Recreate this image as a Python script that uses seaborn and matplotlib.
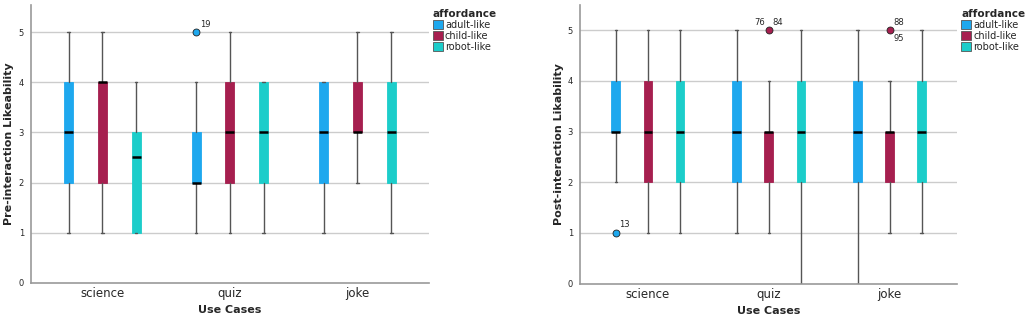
import numpy as np
import matplotlib
matplotlib.use("Agg")
import matplotlib.pyplot as plt
from matplotlib.patches import Patch
import seaborn as sns

##Data
use_cases = ["science", "quiz", "joke"]
affordances = ["adult-like", "child-like", "robot-like"]

# (whisker low, q1, median, q3, whisker high), order: use case -> affordance
pre_whislo = [[1, 1, 1], [1, 1, 1], [1, 2, 1]]
pre_q1 = [[2, 2, 1], [2, 2, 2], [2, 3, 2]]
pre_med = [[3, 4, 2.5], [2, 3, 3], [3, 3, 3]]
pre_q3 = [[4, 4, 3], [3, 4, 4], [4, 4, 4]]
pre_whishi = [[5, 5, 4], [4, 5, 4], [4, 5, 5]]
pre_fliers = {(1, 0): [5]}
pre_flier_ids = {(1, 0): ["19"]}

post_whislo = [[2, 1, 1], [1, 1, 0], [0, 1, 1]]
post_q1 = [[3, 2, 2], [2, 2, 2], [2, 2, 2]]
post_med = [[3, 3, 3], [3, 3, 3], [3, 3, 3]]
post_q3 = [[4, 4, 4], [4, 3, 4], [4, 3, 4]]
post_whishi = [[5, 5, 5], [5, 4, 5], [5, 4, 5]]
post_fliers = {(0, 0): [1], (1, 1): [5], (2, 1): [5]}
post_flier_ids = {(0, 0): ["13"], (1, 1): ["76", "84"], (2, 1): ["88", "95"]}

sns.set_style("white")
palette = sns.color_palette(["#1ea8ee", "#a61f4f", "#1ccdca"])
plt.rcParams['font.family'] = ['DejaVu Sans']

fig = plt.figure(figsize=(10.31, 3.23), dpi=100)
ax1 = fig.add_axes([0.030, 0.125, 0.386, 0.860])
ax2 = fig.add_axes([0.5626, 0.122, 0.366, 0.863])

offset = 0.265
width = 0.07


def draw(ax, wlo, q1, med, q3, whi, fliers, ids, ylabel, top):
    for i in range(len(use_cases)):
        for j in range(len(affordances)):
            stats = [dict(whislo=wlo[i][j], q1=q1[i][j], med=med[i][j],
                          q3=q3[i][j], whishi=whi[i][j],
                          fliers=fliers.get((i, j), []))]
            pos = i + (j - 1) * offset
            ax.bxp(stats, positions=[pos], widths=width, patch_artist=True,
                   manage_ticks=False,
                   boxprops=dict(facecolor=palette[j], edgecolor=palette[j], linewidth=0.6),
                   medianprops=dict(color="black", linewidth=1.8),
                   whiskerprops=dict(color="#555555", linewidth=1.0),
                   capprops=dict(color="#555555", linewidth=1.0),
                   capwidths=0.02,
                   flierprops=dict(marker="o", markersize=5, markerfacecolor=palette[j],
                                   markeredgecolor="#222222", markeredgewidth=0.6))
            if (i, j) in ids:
                y = fliers[(i, j)][0]
                labs = ids[(i, j)]
                if len(labs) == 1:
                    ax.text(pos + 0.03, y + 0.07, labs[0], fontsize=6, va="bottom", ha="left")
                elif i == 1:
                    ax.text(pos - 0.03, y + 0.07, labs[0], fontsize=6, va="bottom", ha="right")
                    ax.text(pos + 0.03, y + 0.07, labs[1], fontsize=6, va="bottom", ha="left")
                else:
                    ax.text(pos + 0.03, y + 0.07, labs[0], fontsize=6, va="bottom", ha="left")
                    ax.text(pos + 0.03, y - 0.07, labs[1], fontsize=6, va="top", ha="left")

    ax.set_xlim(-0.56, 2.56)
    ax.set_ylim(0, top)
    ax.set_yticks(range(0, 6))
    ax.set_xticks(range(len(use_cases)))
    ax.set_xticklabels(use_cases, fontsize=8.5)
    ax.tick_params(axis="y", labelsize=6, length=0, pad=5)
    ax.tick_params(axis="x", length=0, pad=3)
    for y in range(1, 6):
        ax.axhline(y, color="#cccccc", linewidth=1.0, zorder=0)
    for s in ["top", "right"]:
        ax.spines[s].set_visible(False)
    for s in ["left", "bottom"]:
        ax.spines[s].set_color("#999999")
        ax.spines[s].set_linewidth(1.2)
    ax.set_xlabel("Use Cases", fontsize=8, fontweight="bold", labelpad=4)
    ax.set_ylabel(ylabel, fontsize=8, fontweight="bold", labelpad=3)

    handles = [Patch(facecolor=palette[k], edgecolor="#555555", linewidth=0.6, label=affordances[k])
               for k in range(len(affordances))]
    leg = ax.legend(handles=handles, title="affordance", loc="upper left",
                    bbox_to_anchor=(1.0, 1.0), frameon=False, fontsize=7,
                    handlelength=1.0, handleheight=1.0, handletextpad=0.25,
                    labelspacing=0.1, borderaxespad=0.2, borderpad=0.2)
    leg.get_title().set_fontweight("bold")
    leg.get_title().set_fontsize(7.5)
    leg._legend_box.align = "left"


draw(ax1, pre_whislo, pre_q1, pre_med, pre_q3, pre_whishi, pre_fliers, pre_flier_ids,
     "Pre-interaction Likeability", 5.55)
draw(ax2, post_whislo, post_q1, post_med, post_q3, post_whishi, post_fliers, post_flier_ids,
     "Post-interaction Likability", 5.5)

fig.savefig("out.png", dpi=100)
